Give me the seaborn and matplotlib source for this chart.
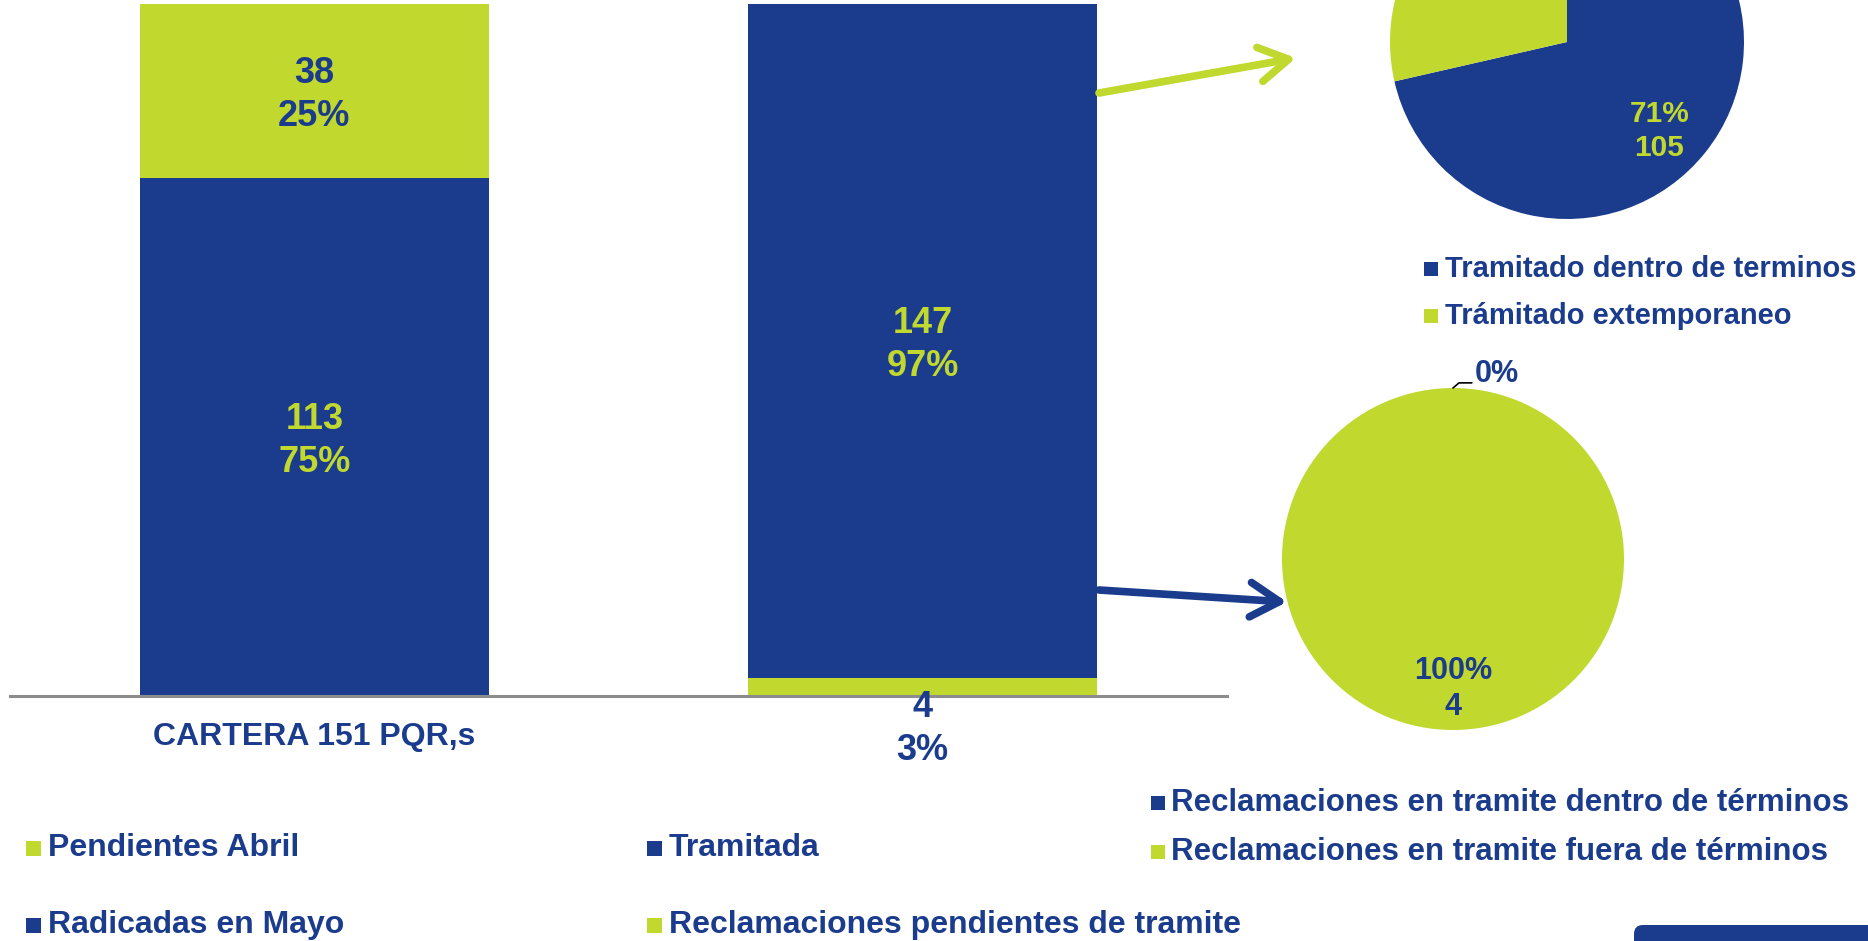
import numpy as np
import pandas as pd
import matplotlib
matplotlib.use("Agg")
import matplotlib.pyplot as plt
import seaborn as sns
from matplotlib.patches import FancyArrowPatch, FancyBboxPatch, Rectangle, ArrowStyle

# ---------------- data ----------------
categories = ["Cartera", "Gestión"]
tick_labels = ["CARTERA 151 PQR,s", ""]
bottom_series = ["Radicadas en Mayo", "Reclamaciones pendientes de tramite"]
bottom_values = [113, 4]
top_series = ["Pendientes Abril", "Tramitada"]
top_values = [38, 147]

pie1_labels = ["Tramitado dentro de terminos", "Trámitado extemporaneo"]
pie1_values = [105, 42]
pie2_labels = ["Reclamaciones en tramite dentro de términos",
               "Reclamaciones en tramite fuera de términos"]
pie2_values = [0, 4]

# ---------------- style ----------------
BLUE = "#1B3C8C"
GREEN = "#C1D82F"
GREY = "#8C8C8C"
W, H = 1868, 941

sns.set_theme(style="white")
plt.rcParams["font.family"] = ["Liberation Sans", "DejaVu Sans"]
plt.rcParams["font.weight"] = "bold"

fig = plt.figure(figsize=(W / 100, H / 100), dpi=100)
fig.patch.set_facecolor("white")


def px_rect(x0, y0, x1, y1):
    return [x0 / W, 1 - y1 / H, (x1 - x0) / W, (y1 - y0) / H]


# ---------------- stacked bars ----------------
ax = fig.add_axes(px_rect(10, 0, 1227, 696))
totals = [b + t for b, t in zip(bottom_values, top_values)]
top_colors = [GREEN, BLUE]
bot_colors = [BLUE, GREEN]
df_tot = pd.DataFrame({"cat": categories, "val": totals})
df_bot = pd.DataFrame({"cat": categories, "val": bottom_values})
sns.barplot(data=df_tot, x="cat", y="val", hue="cat",
            palette=dict(zip(categories, top_colors)), width=0.574,
            legend=False, ax=ax, saturation=1, linewidth=0)
sns.barplot(data=df_bot, x="cat", y="val", hue="cat",
            palette=dict(zip(categories, bot_colors)), width=0.574,
            legend=False, ax=ax, saturation=1, linewidth=0)
ax.set_xlim(-0.5, 1.5)
ax.set_ylim(0, 151.8)
ax.set_xlabel("")
ax.set_ylabel("")
ax.set_yticks([])
ax.set_xticks(range(len(categories)))
ax.set_xticklabels(tick_labels, fontsize=23, color=BLUE, fontweight="bold")
ax.tick_params(axis="x", length=0, pad=19)
for s in ["left", "right", "top"]:
    ax.spines[s].set_visible(False)
ax.spines["bottom"].set_color(GREY)
ax.spines["bottom"].set_linewidth(2.2)

LS = 1.3
contrast = {GREEN: BLUE, BLUE: GREEN}
for i in range(len(categories)):
    tot = totals[i]
    b, t = bottom_values[i], top_values[i]
    ax.annotate(f"{t}\n{round(100 * t / tot)}%", xy=(i, b + t / 2), xytext=(0, -3),
                textcoords="offset points", ha="center", va="center",
                fontsize=26, color=contrast[top_colors[i]], fontweight="bold", linespacing=LS)
    if b / tot > 0.1:
        ax.annotate(f"{b}\n{round(100 * b / tot)}%", xy=(i, b / 2), xytext=(0, -3),
                    textcoords="offset points", ha="center", va="center",
                    fontsize=26, color=contrast[bot_colors[i]], fontweight="bold", linespacing=LS)
    else:
        ax.annotate(f"{b}\n{round(100 * b / tot)}%", xy=(i, 0), xytext=(0, -23.5),
                    textcoords="offset points", ha="center", va="center",
                    fontsize=26, color=BLUE, fontweight="bold", linespacing=LS)

# ---------------- pie 1 ----------------
def make_fmt(vals):
    s = sum(vals)
    return lambda p: f"{p:.0f}%\n{p * s / 100:.0f}"

c1x, c1y, r1 = 1567, 42, 177
pax1 = fig.add_axes(px_rect(c1x - r1, c1y - r1, c1x + r1, c1y + r1))
w1, t1, a1 = pax1.pie(pie1_values, colors=[BLUE, GREEN], startangle=90, counterclock=False,
                      autopct=make_fmt(pie1_values), pctdistance=0.72,
                      wedgeprops=dict(linewidth=0),
                      textprops=dict(color=GREEN, fontsize=21.5, fontweight="bold", linespacing=1.3))
a1[1].set_visible(False)
px0, py0 = a1[0].get_position()
a1[0].set_position((px0 - 0.04, py0 - 0.055))
pax1.set_xlim(-1, 1)
pax1.set_ylim(-1, 1)

# ---------------- pie 2 ----------------
c2x, c2y, r2 = 1453, 559, 171
pax2 = fig.add_axes(px_rect(c2x - r2, c2y - r2, c2x + r2, c2y + r2))
w2, t2, a2 = pax2.pie(pie2_values, colors=[BLUE, GREEN], startangle=90, counterclock=False,
                      autopct=make_fmt(pie2_values), pctdistance=0.76,
                      wedgeprops=dict(linewidth=0),
                      textprops=dict(color=BLUE, fontsize=22, fontweight="bold", linespacing=1.3))
pct0 = 100 * pie2_values[0] / sum(pie2_values)
a2[0].set_text(f"{pct0:.0f}%")
a2[0].set_position((0.13, 1.08))
a2[0].set_ha("left")
pax2.plot([0, 0.035, 0.11], [1.0, 1.03, 1.03], color="black", lw=1.2, clip_on=False)
pax2.set_xlim(-1, 1)
pax2.set_ylim(-1, 1)

# ---------------- overlay: legends, arrows ----------------
oax = fig.add_axes([0, 0, 1, 1])
oax.set_xlim(0, W)
oax.set_ylim(H, 0)
oax.axis("off")


def legend_entry(x_sq, y_c, color, label, fs, sq=15, tx=None):
    oax.add_patch(Rectangle((x_sq, y_c - sq / 2), sq, sq, color=color, lw=0))
    oax.text(tx, y_c, label, fontsize=fs, color=BLUE, va="center", ha="left",
             fontweight="bold")


# bar legends
legend_entry(26, 848, top_colors[0], top_series[0], 23, tx=48)
legend_entry(26, 925, bot_colors[0], bottom_series[0], 23, tx=48)
legend_entry(647, 848, top_colors[1], top_series[1], 23, tx=669)
legend_entry(647, 925, bot_colors[1], bottom_series[1], 23, tx=669)
# pie legends
legend_entry(1424, 269, BLUE, pie1_labels[0], 21, sq=14, tx=1445)
legend_entry(1424, 316, GREEN, pie1_labels[1], 21, sq=14, tx=1445)
legend_entry(1151, 803, BLUE, pie2_labels[0], 22.5, sq=14, tx=1171)
legend_entry(1151, 852, GREEN, pie2_labels[1], 22.5, sq=14, tx=1171)

style = ArrowStyle("->", head_length=1.05, head_width=0.62)
arr1 = FancyArrowPatch((1099, 93), (1296, 58), arrowstyle=style, mutation_scale=20,
                       color=GREEN, lw=5.5, shrinkA=0, shrinkB=0,
                       capstyle="round", joinstyle="round")
arr2 = FancyArrowPatch((1099, 590), (1287, 602), arrowstyle=style, mutation_scale=20,
                       color=BLUE, lw=5.5, shrinkA=0, shrinkB=0,
                       capstyle="round", joinstyle="round")
oax.add_patch(arr1)
oax.add_patch(arr2)

oax.add_patch(FancyBboxPatch((1634, 925), 260, 40, boxstyle="round,pad=0,rounding_size=9",
                             fc=BLUE, ec="none"))

fig.savefig("out.png", dpi=100)
